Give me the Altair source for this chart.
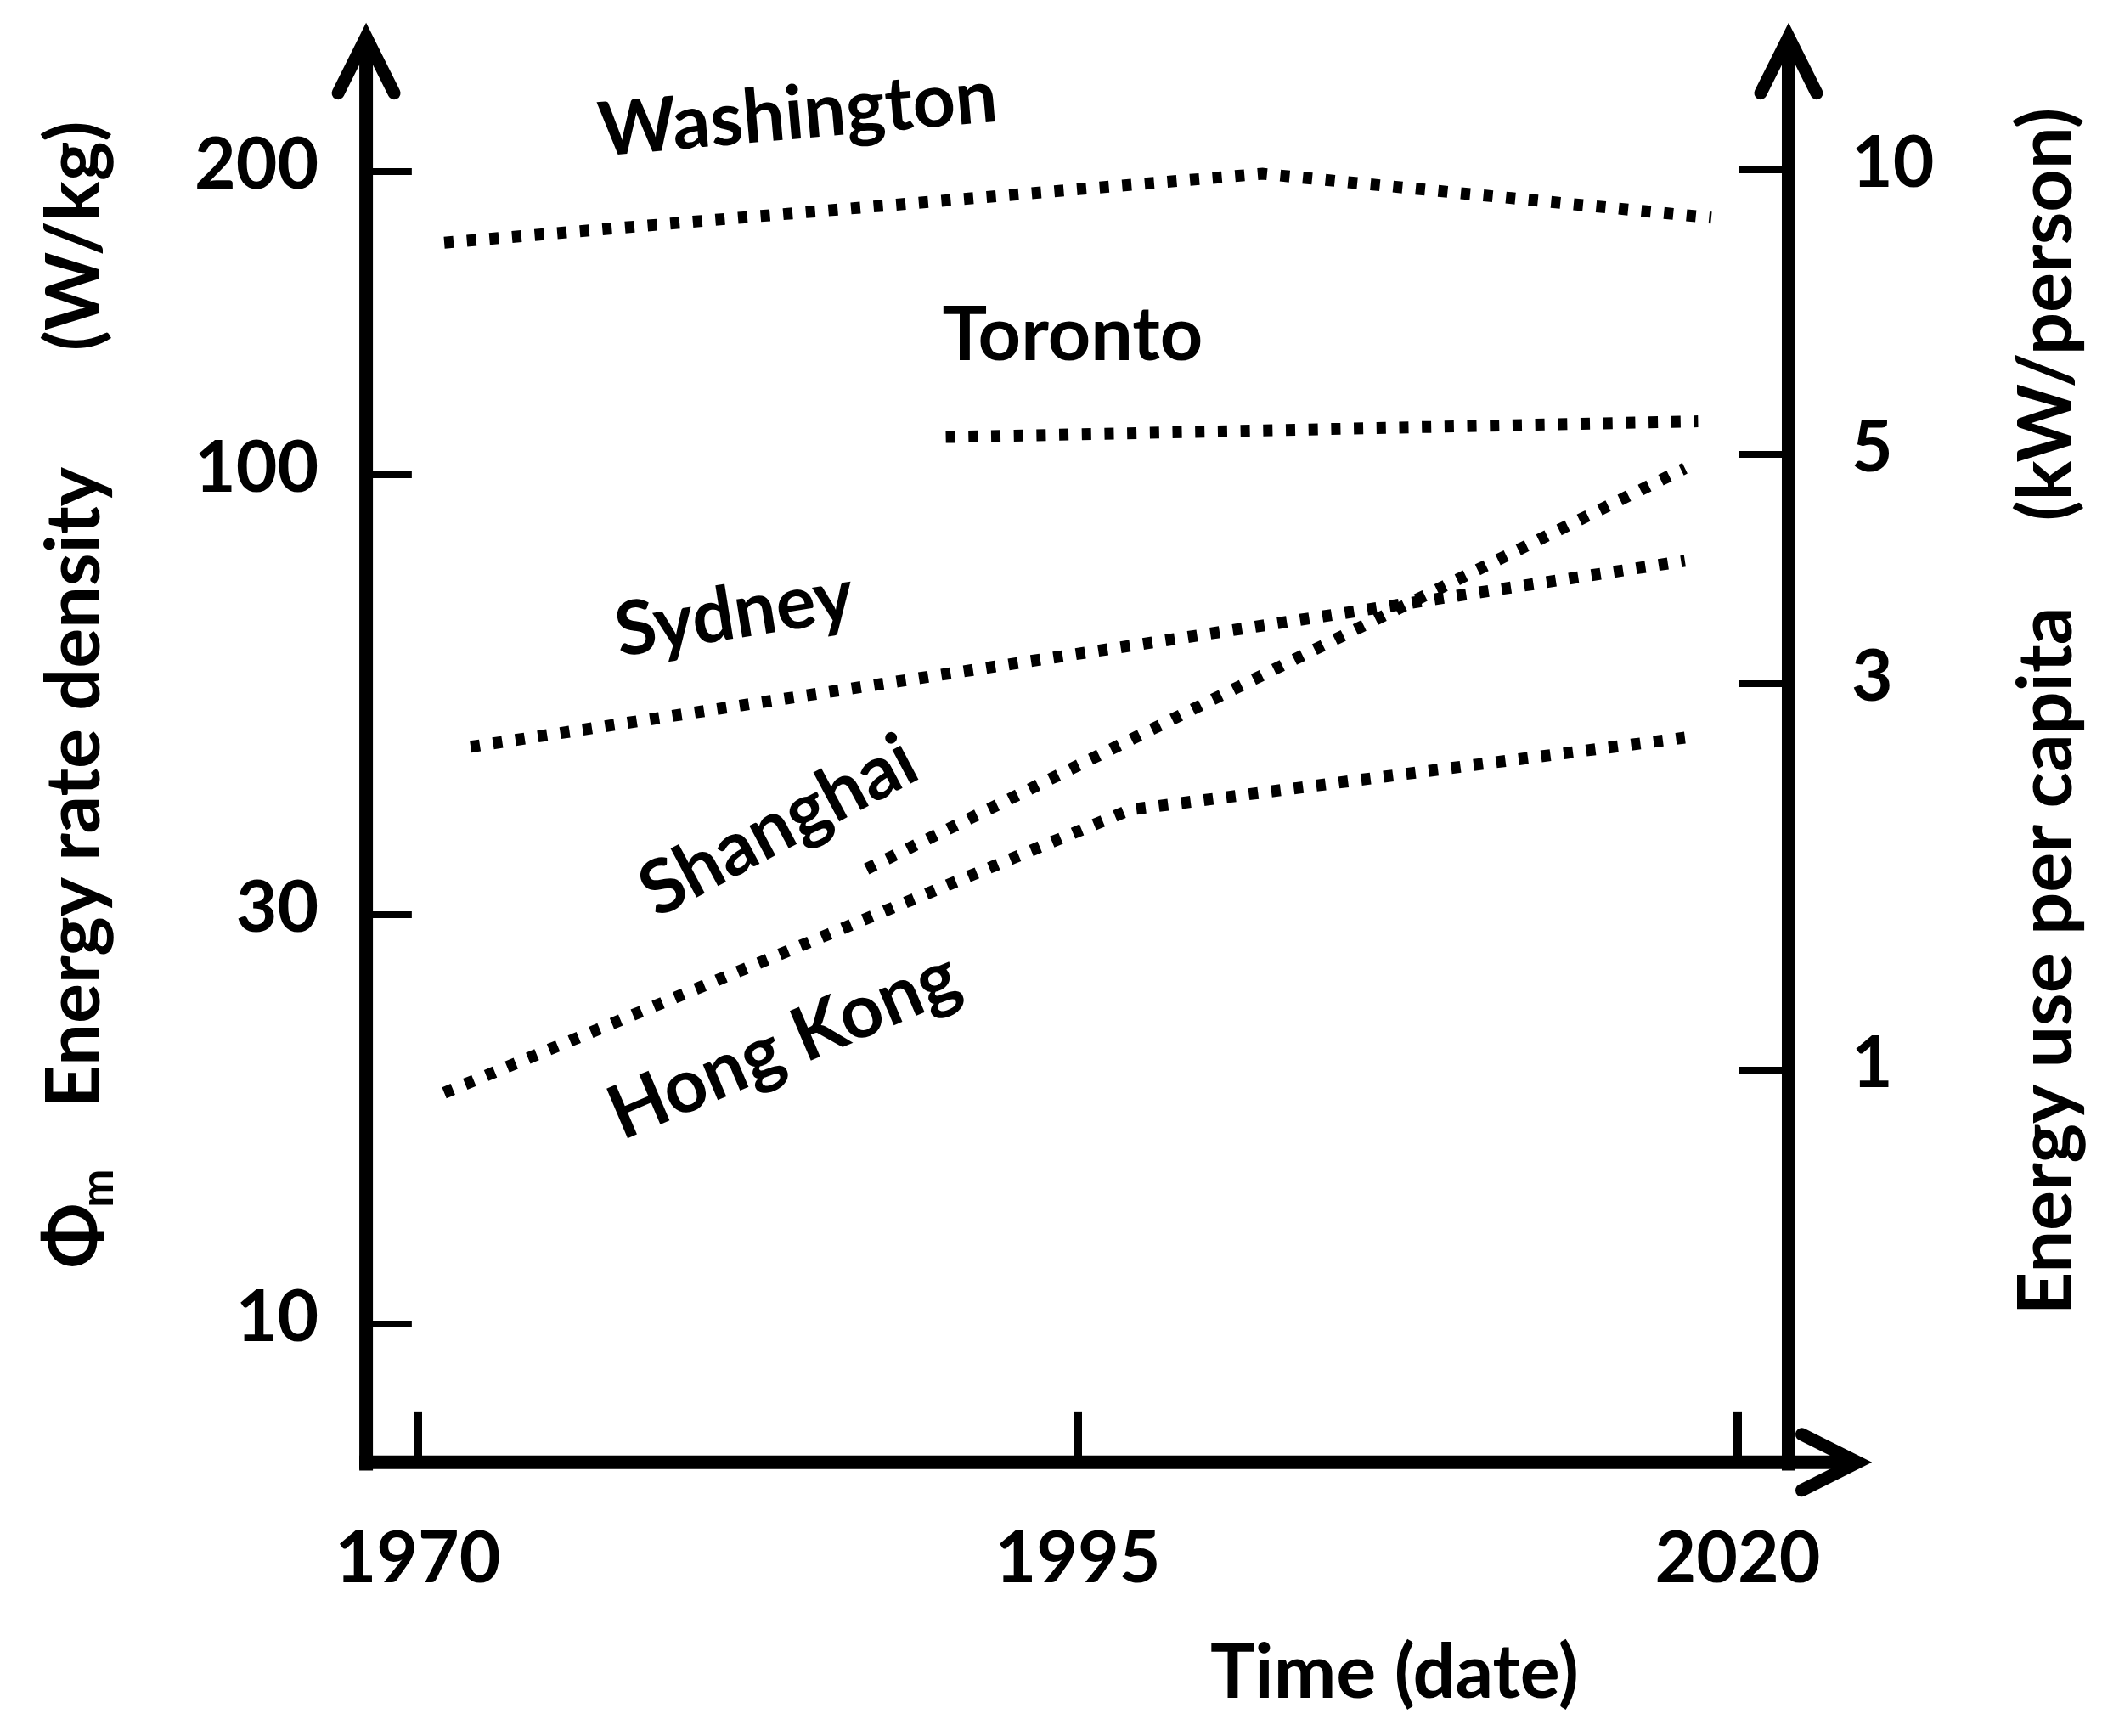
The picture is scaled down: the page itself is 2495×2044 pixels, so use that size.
import altair as alt
import pandas as pd

# ---------------- data ----------------
wash_years = [1971, 2002, 2019]
wash_vals = [170, 199, 180]
tor_years = [1990, 2018.5]
tor_vals = [109, 113]
syd_years = [1972, 2018]
syd_vals = [47.5, 79]
sha_years = [1987, 2018]
sha_vals = [34, 101.5]
hk_years = [1971, 1997, 2018]
hk_vals = [18.6, 40, 48.7]

cities = ["Washington", "Toronto", "Sydney", "Shanghai", "Hong Kong"]
label_years = [1984.4, 1994.8, 1982.0, 1983.7, 1983.9]
label_vals = [226.8, 136.7, 67.9, 38.0, 21.0]
label_angles = [355, 0, 351, 332, 337]

left_ticks = [10, 30, 100, 200]
right_ticks = [1, 3, 5, 10]
x_ticks = [1970, 1995, 2020]

FONT = "Lato"
FS = 84      # numbers
FW = 88      # words

# ---------------- scales (hand-drawn axes, piecewise log) ----------------
XS = alt.Scale(domain=[1970, 2020], range=[484, 2038], nice=False, zero=False)
YS = alt.Scale(type="log", domain=left_ticks, range=[1551, 1069, 551, 194], nice=False)
KS = alt.Scale(type="log", domain=right_ticks, range=[1252, 797, 527, 192], nice=False)

def X(f="x"):
    return alt.X(f"{f}:Q", scale=XS, axis=None)

def Y(f="y"):
    return alt.Y(f"{f}:Q", scale=YS, axis=None)

# ---------------- city lines ----------------
rows = []
for name, ys, vs in [("Washington", wash_years, wash_vals), ("Toronto", tor_years, tor_vals),
                     ("Sydney", syd_years, syd_vals), ("Shanghai", sha_years, sha_vals),
                     ("Hong Kong", hk_years, hk_vals)]:
    for yr, v in zip(ys, vs):
        rows.append({"city": name, "x": yr, "y": v})
lines_df = pd.DataFrame(rows)

lines = alt.Chart(lines_df).mark_line(
    color="black", strokeWidth=14, strokeDash=[11, 15.7], strokeCap="butt"
).encode(x=X(), y=Y(), detail="city:N")

labels_df = pd.DataFrame({"x": label_years, "y": label_vals, "t": cities, "a": label_angles})
city_labels = alt.Chart(labels_df).mark_text(
    font=FONT, fontWeight="bold", fontSize=FW, color="black", align="center", baseline="middle"
).encode(x=X(), y=Y(), text="t:N", angle=alt.Angle("a:Q", scale=None))

# ---------------- axes ----------------
X_LEFT, X_RIGHT, X_TIP = 1968.04, 2021.93, 2024.55
Y_AXIS, Y_TOP, Y_LOW = 6.9, 272, 6.75

axis_df = pd.DataFrame({
    "x": [X_LEFT, X_RIGHT, X_LEFT - 0.26],
    "x2": [X_LEFT, X_RIGHT, X_TIP],
    "y": [Y_LOW, Y_LOW, Y_AXIS],
    "y2": [Y_TOP, Y_TOP, Y_AXIS],
})
axes = alt.Chart(axis_df).mark_rule(color="black", strokeWidth=16, strokeCap="butt").encode(
    x=X(), x2="x2:Q", y=Y(), y2="y2:Q"
)

up_df = pd.DataFrame({"x": [X_LEFT, X_RIGHT], "y": [Y_TOP, Y_TOP]})
up_arrows = alt.Chart(up_df).mark_point(
    shape="M-1,2L0,0L1,2", size=4356, filled=False, color="black", opacity=1,
    strokeWidth=15, strokeCap="round", strokeJoin="miter"
).encode(x=X(), y=Y())

right_df = pd.DataFrame({"x": [X_TIP], "y": [Y_AXIS]})
right_arrow = alt.Chart(right_df).mark_point(
    shape="M-2,-1L0,0L-2,1", size=4356, filled=False, color="black", opacity=1,
    strokeWidth=15, strokeCap="round", strokeJoin="miter"
).encode(x=X(), y=Y())

# left ticks and labels
lt_df = pd.DataFrame({"x": [X_LEFT] * 4, "x2": [1969.77] * 4, "y": left_ticks,
                      "t": [str(v) for v in left_ticks], "lx": [1966.24] * 4})
left_tick_marks = alt.Chart(lt_df).mark_rule(color="black", strokeWidth=8).encode(
    x=X(), x2="x2:Q", y=Y()
)
left_tick_labels = alt.Chart(lt_df).mark_text(
    font=FONT, fontWeight="bold", fontSize=FS, align="right", baseline="middle", dy=-5
).encode(x=X("lx"), y=Y(), text="t:N")

# right ticks and labels (own scale)
rt_df = pd.DataFrame({"x": [2020.06] * 4, "x2": [X_RIGHT] * 4, "k": right_ticks,
                      "t": [str(v) for v in right_ticks], "lx": [2024.31] * 4})
right_tick_marks = alt.Chart(rt_df).mark_rule(color="black", strokeWidth=8).encode(
    x=X(), x2="x2:Q", y=alt.Y("k:Q", scale=KS, axis=None)
)
right_tick_labels = alt.Chart(rt_df).mark_text(
    font=FONT, fontWeight="bold", fontSize=FS, align="left", baseline="middle", dy=-5
).encode(x=X("lx"), y=alt.Y("k:Q", scale=KS, axis=None), text="t:N")

# x ticks and labels
xt_df = pd.DataFrame({"x": x_ticks, "y": [7.91] * 3, "y2": [Y_AXIS] * 3, "ly": [5.30] * 3,
                      "t": [str(v) for v in x_ticks]})
x_tick_marks = alt.Chart(xt_df).mark_rule(color="black", strokeWidth=10).encode(
    x=X(), y=Y(), y2="y2:Q"
)
x_tick_labels = alt.Chart(xt_df).mark_text(
    font=FONT, fontWeight="bold", fontSize=FS, align="center", baseline="middle"
).encode(x=X(), y=Y("ly"), text="t:N")

# axis titles (pieces placed separately to keep the wide gaps)
titles_df = pd.DataFrame({
    "x": [2007.0, 1957.1, 1957.1, 2031.8, 2031.8],
    "y": [3.89, 42.5, 172.6, 26.5, 144.3],
    "t": ["Time (date)", "Energy rate density", "(W/kg)", "Energy use per capita", "(kW/person)"],
    "a": [0, 270, 270, 270, 270],
})
titles = alt.Chart(titles_df).mark_text(
    font=FONT, fontWeight="bold", fontSize=FW, align="center", baseline="middle"
).encode(x=X(), y=Y(), text="t:N", angle=alt.Angle("a:Q", scale=None))

phi_df = pd.DataFrame({"x": [1957.1], "y": [12.67], "t": ["Φ"]})
phi = alt.Chart(phi_df).mark_text(
    font=FONT, fontWeight="bold", fontSize=90, align="center", baseline="middle", angle=270
).encode(x=X(), y=Y(), text="t:N")
sub_df = pd.DataFrame({"x": [1957.95], "y": [14.4], "t": ["m"]})
sub = alt.Chart(sub_df).mark_text(
    font=FONT, fontWeight="bold", fontSize=54, align="center", baseline="middle", angle=270
).encode(x=X(), y=Y(), text="t:N")

chart = alt.layer(
    axes, up_arrows, right_arrow,
    left_tick_marks, left_tick_labels, right_tick_marks, right_tick_labels,
    x_tick_marks, x_tick_labels,
    lines, city_labels, titles, phi, sub,
).resolve_scale(y="independent").properties(
    width=2470, height=2015, padding=0, autosize="none", background="white"
).configure_view(stroke=None)

chart.save("out.html", embed_options={"renderer": "svg", "actions": False})
